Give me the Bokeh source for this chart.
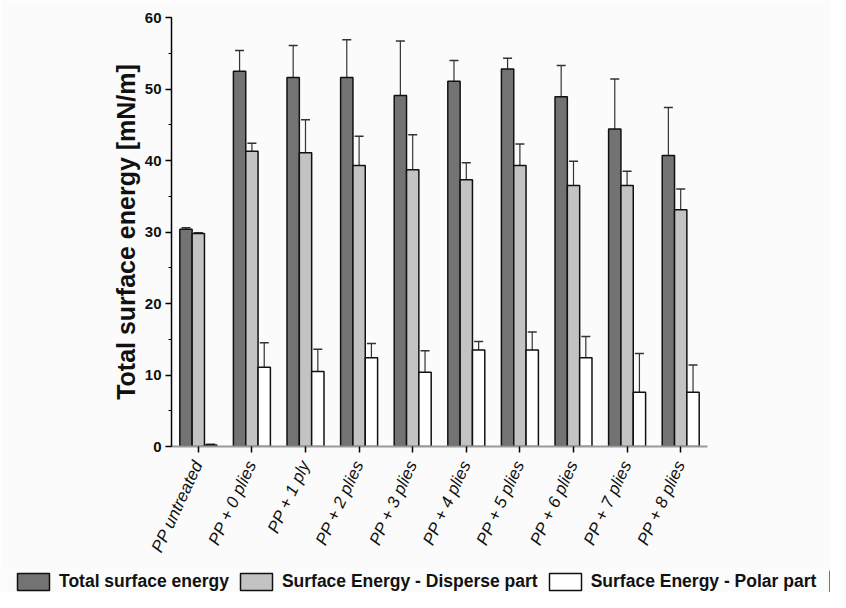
import math
from bokeh.plotting import figure
from bokeh.layouts import column
from bokeh.models import ColumnDataSource, FactorRange, Range1d, Whisker, Legend, LegendItem
from bokeh.transform import dodge
from bokeh.embed import file_html
from bokeh.resources import INLINE

categories = ["PP untreated", "PP + 0 plies", "PP + 1 ply", "PP + 2 plies", "PP + 3 plies",
              "PP + 4 plies", "PP + 5 plies", "PP + 6 plies", "PP + 7 plies", "PP + 8 plies"]
total = [30.4, 52.5, 51.6, 51.6, 49.1, 51.1, 52.8, 48.9, 44.4, 40.7]
total_err = [0.2, 2.9, 4.5, 5.3, 7.6, 2.9, 1.5, 4.4, 7.0, 6.7]
disperse = [29.8, 41.3, 41.1, 39.3, 38.7, 37.3, 39.3, 36.5, 36.5, 33.1]
disperse_err = [0.1, 1.1, 4.6, 4.1, 4.9, 2.4, 3.0, 3.4, 2.0, 2.9]
polar = [0.2, 11.1, 10.5, 12.4, 10.4, 13.5, 13.5, 12.4, 7.6, 7.6]
polar_err = [0.1, 3.4, 3.1, 2.0, 3.0, 1.2, 2.5, 3.0, 5.4, 3.8]

series_names = ["Total surface energy", "Surface Energy - Disperse part", "Surface Energy - Polar part"]
FONT = "Liberation Sans"
BG = "#fbfbfb"
TXT = "#111111"

src = ColumnDataSource(dict(
    cat=categories,
    total=total, total_lo=[v - e for v, e in zip(total, total_err)], total_hi=[v + e for v, e in zip(total, total_err)],
    disp=disperse, disp_lo=[v - e for v, e in zip(disperse, disperse_err)], disp_hi=[v + e for v, e in zip(disperse, disperse_err)],
    pol=polar, pol_lo=[max(0, v - e) for v, e in zip(polar, polar_err)], pol_hi=[v + e for v, e in zip(polar, polar_err)],
))

p = figure(x_range=FactorRange(*categories, range_padding=0), y_range=Range1d(0, 60),
           width=830, height=570, output_backend="svg", toolbar_location=None,
           min_border_left=171, min_border_right=123, min_border_top=17, min_border_bottom=124)
p.background_fill_color = BG
p.border_fill_color = BG
p.outline_line_color = None
p.xgrid.visible = False
p.ygrid.visible = False

W = 0.23
offs = [-W, 0.0, W]
cols = ["total", "disp", "pol"]
fills = ["#737373", "#c3c3c3", "#ffffff"]
for off, c, f in zip(offs, cols, fills):
    p.vbar(x=dodge("cat", off, range=p.x_range), top=c, width=W, source=src,
           fill_color=f, line_color="#111111", line_width=1.5)
    wk = Whisker(base=dodge("cat", off, range=p.x_range), upper=c + "_hi", lower=c + "_lo", source=src,
                 line_color="#333333", line_width=1.2)
    for h in (wk.upper_head, wk.lower_head):
        h.size = 9
        h.line_color = "#333333"
        h.line_width = 1.5
    p.add_layout(wk)

# y axis
ya = p.yaxis[0]
ya.axis_label = "Total surface energy [mN/m]"
ya.axis_label_text_font = FONT
ya.axis_label_text_font_style = "bold"
ya.axis_label_text_font_size = "25px"
ya.axis_label_text_color = TXT
ya.axis_label_standoff = 2
ya.major_label_text_font = FONT
ya.major_label_text_font_style = "bold"
ya.major_label_text_font_size = "15px"
ya.major_label_text_color = TXT
ya.major_label_standoff = 4
ya.axis_line_color = "#000000"
ya.axis_line_width = 1.5
ya.major_tick_line_color = "#000000"
ya.minor_tick_line_color = "#000000"
ya.major_tick_line_width = 1.5
ya.minor_tick_line_width = 1.2
ya.major_tick_out = 6
ya.major_tick_in = 0
ya.minor_tick_out = 3
ya.minor_tick_in = 0
ya.ticker.desired_num_ticks = 7
ya.ticker.num_minor_ticks = 2

# x axis
xa = p.xaxis[0]
xa.axis_line_color = "#999999"
xa.axis_line_width = 2
xa.major_tick_line_color = "#000000"
xa.major_tick_line_width = 1.5
xa.major_tick_out = 6
xa.major_tick_in = 0
xa.minor_tick_line_color = None
xa.major_label_orientation = math.radians(65)
xa.major_label_text_font = FONT
xa.major_label_text_font_style = "italic"
xa.major_label_text_font_size = "17px"
xa.major_label_text_color = TXT
xa.major_label_standoff = 9

# legend strip
lg = figure(width=830, height=22, output_backend="svg", toolbar_location=None,
            x_range=Range1d(0, 1), y_range=Range1d(0, 1),
            min_border_left=0, min_border_right=0, min_border_top=0, min_border_bottom=0)
lg.frame_align = False
lg.background_fill_color = BG
lg.border_fill_color = BG
lg.outline_line_color = None
lg.axis.visible = False
lg.grid.visible = False
# off-range dummy bars, only used to draw the legend swatches
dummy = ColumnDataSource(dict(x=[5], top=[5]))
items = []
for name, f in zip(series_names, fills):
    r = lg.vbar(x="x", top="top", width=0.1, source=dummy, fill_color=f, line_color="#111111", line_width=1.5)
    items.append(LegendItem(label=name, renderers=[r]))
legend = Legend(items=items, orientation="horizontal", location=(13, 0),
                glyph_width=40, glyph_height=21, label_standoff=6, spacing=7,
                padding=0, margin=0, border_line_color=None, background_fill_alpha=0,
                label_text_font=FONT, label_text_font_style="bold", label_text_font_size="17.5px",
                label_text_color=TXT)
lg.add_layout(legend, "center")

layout = column(p, lg, spacing=0)
open("out.html", "w").write(file_html(layout, INLINE))
